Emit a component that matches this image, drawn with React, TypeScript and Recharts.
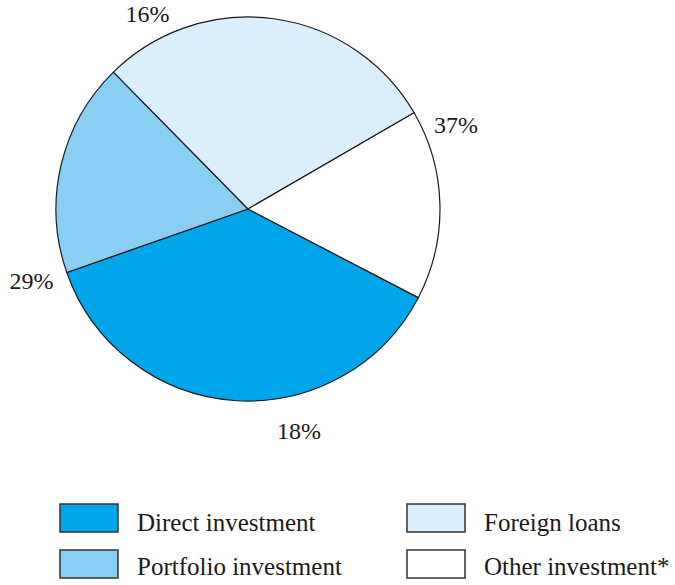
import React from "react";
import { PieChart, Pie, Cell, Legend } from "recharts";

const categories = ["Direct investment", "Portfolio investment", "Foreign loans", "Other investment*"];
const shares = [37, 18, 29, 16];
const colors = ["#00A6E9", "#8ACEF3", "#DBEEFC", "#FFFFFF"];

const data = categories.map((name, i) => ({ name, value: shares[i] }));

const FONT = '"Liberation Serif", "Times New Roman", Times, "DejaVu Serif", serif';
const RAD = Math.PI / 180;
const LABEL_SHIFT = 116;

const renderLabel = (props: any) => {
  const { cx, cy, midAngle, outerRadius, index } = props;
  const a = (midAngle + LABEL_SHIFT) * RAD;
  const r = outerRadius + 36 - 10 * Math.max(0, Math.sin(a));
  const x = cx + r * Math.cos(-a);
  const y = cy + r * Math.sin(-a);
  return (
    <text
      x={x}
      y={y}
      textAnchor="middle"
      dominantBaseline="central"
      style={{ fontFamily: FONT, fontSize: 24 }}
      fill="#1a1a1a"
    >
      {shares[index]}%
    </text>
  );
};

const LegendContent = () => {
  const colX = [60, 407];
  return (
    <svg width={675} height={95} style={{ display: "block" }}>
      {categories.map((name, i) => {
        const col = Math.floor(i / 2);
        const row = i % 2;
        const x = colX[col];
        const y = 14 + row * 46;
        return (
          <g key={name}>
            <rect x={x} y={y} width={58} height={28} fill={colors[i]} stroke="#333" strokeWidth={1.5} />
            <text x={x + 77} y={41 + row * 44} style={{ fontFamily: FONT, fontSize: 25 }} fill="#1a1a1a">
              {name}
            </text>
          </g>
        );
      })}
    </svg>
  );
};

export default function App() {
  return (
    <div style={{ position: "absolute", left: 0, top: 0, width: 675, height: 585, background: "#fff", fontFamily: FONT }}>
      <PieChart width={675} height={585} margin={{ top: 0, right: 0, bottom: 0, left: 0 }}>
        <Pie
          data={data}
          dataKey="value"
          nameKey="name"
          cx={248}
          cy={209}
          outerRadius={192}
          startAngle={-27.5}
          endAngle={-387.5}
          stroke="#1a1a1a"
          strokeWidth={1.2}
          label={renderLabel}
          labelLine={false}
          isAnimationActive={false}
        >
          {data.map((d, i) => (
            <Cell key={d.name} fill={colors[i]} />
          ))}
        </Pie>
        <Legend
          content={<LegendContent />}
          wrapperStyle={{ position: "absolute", left: 0, top: 490, width: 675, height: 95 }}
        />
      </PieChart>
    </div>
  );
}
